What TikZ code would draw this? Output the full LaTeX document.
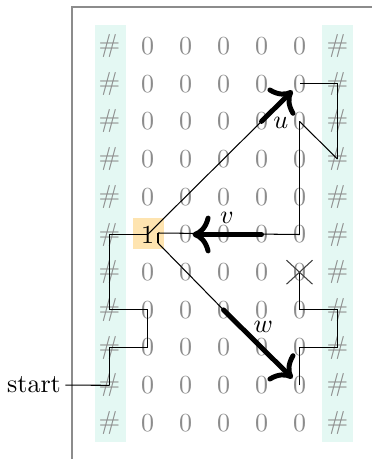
\documentclass[tikz,border=0pt]{standalone}
\usetikzlibrary{arrows.meta}
\definecolor{wallc}{RGB}{228,248,243}
\definecolor{startc}{RGB}{254,228,176}
\begin{document}
\begin{tikzpicture}[x=0.3846pt,y=-0.3846pt,
  cell/.style={inner sep=0pt,text=black!45},
  onecell/.style={inner sep=0pt,text=black},
  thinline/.style={line width=0.4pt,black},
  movearrow/.style={line width=1.9pt,line cap=round,-{To[scale=1.2]},black},
  xmark/.style={line width=0.4pt,black!75},
  frameline/.style={line width=0.5pt,black!45}]
\useasboundingbox (0,0) rectangle (372,459);
% backgrounds
\fill[wallc] (95,25) rectangle (126,442);
\fill[wallc] (322,25) rectangle (353,442);
\fill[startc] (133,218) rectangle (164,249);
\draw[frameline] (72,459) -- (72,7) -- (372,7);
% grid
\foreach \r in {1,...,11}{\foreach \c in {0,...,6}{
  \pgfmathsetmacro\xx{109.5+38*\c}
  \pgfmathsetmacro\yy{46+37.7*(\r-1)}
  \def\t{0}\def\s{cell}
  \ifnum\c=0 \def\t{\#}\fi
  \ifnum\c=6 \def\t{\#}\fi
  \ifnum\r=6 \ifnum\c=1 \def\t{1}\def\s{onecell}\fi\fi
  \node[\s] (n-\r-\c) at (\xx,\yy) {\t};
}}
\node[inner sep=1.5pt] (startnode) at (34,385) {start};
\coordinate (oe) at (158,233);
\coordinate (os) at (158,243);
% thin paths
\draw[thinline] (startnode) -- (n-10-0.center);
\draw[thinline] (n-10-0.center) |- (n-9-1.center);
\draw[thinline] (n-9-1.center) |- (n-8-0.center);
\draw[thinline] (n-8-0.center) |- (n-6-1.center);
\draw[thinline] (n-6-1.center) -- (n-3-4.center);
\draw[thinline] (oe) -- (n-6-5.center);
\draw[thinline] (n-6-5.center) -- (n-3-5.center);
\draw[thinline] (n-3-5.center) -- (n-4-6.center);
\draw[thinline] (n-4-6.center) |- (n-2-5.center);
\draw[thinline] (oe) -- (os);
\draw[thinline] (os) -- (n-8-3.center);
\draw[thinline] (n-10-5.center) |- (n-9-6.center);
\draw[thinline] (n-9-6.center) |- (n-8-5.center);
\draw[thinline] (n-8-5.center) -- (n-7-5.center);
% cross
\draw[xmark] ([shift={(-13,-12)}]n-7-5.center) -- ([shift={(13,12)}]n-7-5.center);
\draw[xmark] ([shift={(13,-12)}]n-7-5.center) -- ([shift={(-13,12)}]n-7-5.center);
% moves
\draw[movearrow] (n-3-4.center) -- (n-2-5) node[midway,below,xshift=1.5pt] (lu) {$u$};
\draw[movearrow] (n-6-4.center) -- (n-6-2) node[midway,above] (lv) {$v$};
\draw[movearrow] (n-8-3.center) -- (n-10-5) node[midway,above,xshift=2pt] (lw) {$w$};
\end{tikzpicture}
\end{document}
